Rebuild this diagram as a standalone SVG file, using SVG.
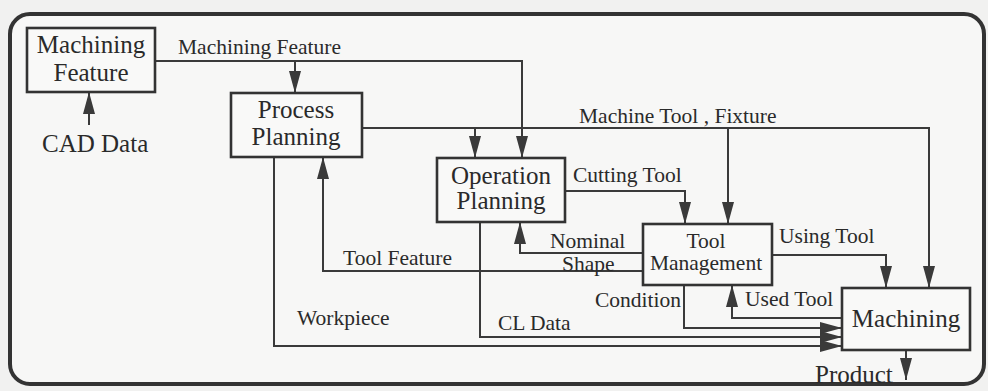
<svg xmlns="http://www.w3.org/2000/svg" width="988" height="391" viewBox="0 0 988 391">
  <style>
    .frame { fill: #f7f7f6; stroke: #333; stroke-width: 4; }
    .box { fill: #f9f9f8; stroke: #333; stroke-width: 2.6; }
    .wire { fill: none; stroke: #3a3a3a; stroke-width: 2; }
    .node-text { font-family: "Liberation Serif", "Times New Roman", serif; font-size: 25px; fill: #2a2a2a; text-anchor: middle; }
    .small-node { font-size: 21.5px; }
    .label { font-family: "Liberation Serif", "Times New Roman", serif; font-size: 21.5px; fill: #2a2a2a; }
    .big { font-size: 25px; }
  </style>
  <defs>
    <marker id="arrow" markerUnits="userSpaceOnUse" markerWidth="22" markerHeight="12" refX="22" refY="6" orient="auto">
      <path d="M0,0 L22,6 L0,12 Z" fill="#3a3a3a"/>
    </marker>
  </defs>

  <rect x="0" y="0" width="988" height="391" fill="#f1f1f0"/>
  <rect class="frame" x="10" y="14" width="974" height="370" rx="20" ry="20"/>

  <!-- Connectors -->
  <g id="connectors">
    <!-- CAD data into the feature model -->
    <path class="wire" d="M89,125 V92" marker-end="url(#arrow)"/>
    <!-- Machining Feature bus -->
    <path class="wire" d="M155,61 H522 V158" marker-end="url(#arrow)"/>
    <path class="wire" d="M295,61 V93" marker-end="url(#arrow)"/>
    <!-- Machine Tool , Fixture bus -->
    <path class="wire" d="M362,128 H929 V288" marker-end="url(#arrow)"/>
    <path class="wire" d="M475,128 V158" marker-end="url(#arrow)"/>
    <path class="wire" d="M728,128 V224" marker-end="url(#arrow)"/>
    <!-- Cutting Tool -->
    <path class="wire" d="M565,191 H685 V224" marker-end="url(#arrow)"/>
    <!-- Nominal Shape -->
    <path class="wire" d="M643,253 H520 V222" marker-end="url(#arrow)"/>
    <!-- Tool Feature -->
    <path class="wire" d="M643,271 H323 V157" marker-end="url(#arrow)"/>
    <!-- CL Data -->
    <path class="wire" d="M480,222 V337 H842" marker-end="url(#arrow)"/>
    <!-- Workpiece -->
    <path class="wire" d="M274,157 V346 H842" marker-end="url(#arrow)"/>
    <!-- Condition -->
    <path class="wire" d="M684,285 V328 H842" marker-end="url(#arrow)"/>
    <!-- Used Tool -->
    <path class="wire" d="M842,318 H732 V285" marker-end="url(#arrow)"/>
    <!-- Using Tool -->
    <path class="wire" d="M772,255 H886 V288" marker-end="url(#arrow)"/>
    <!-- Product -->
    <path class="wire" d="M906,350 V380" marker-end="url(#arrow)"/>
  </g>

  <!-- Connector labels -->
  <g id="labels">
    <text class="label" x="178" y="54">Machining Feature</text>
    <text class="label big" x="42" y="152">CAD Data</text>
    <text class="label" x="579" y="123">Machine Tool , Fixture</text>
    <text class="label" x="573" y="182">Cutting Tool</text>
    <text class="label" x="550" y="248">Nominal</text>
    <text class="label" x="562" y="271">Shape</text>
    <text class="label" x="343" y="265">Tool Feature</text>
    <text class="label" x="498" y="330">CL Data</text>
    <text class="label" x="297" y="325">Workpiece</text>
    <text class="label" x="595" y="307">Condition</text>
    <text class="label" x="745" y="306">Used Tool</text>
    <text class="label" x="779" y="243">Using Tool</text>
    <text class="label big" x="815" y="383">Product</text>
  </g>

  <g id="machining-feature">
    <rect class="box" x="27" y="28" width="128" height="64"/>
    <text class="node-text" x="91" y="53">Machining</text>
    <text class="node-text" x="91" y="81">Feature</text>
  </g>

  <g id="process-planning">
    <rect class="box" x="231" y="93" width="131" height="64"/>
    <text class="node-text" x="296" y="118">Process</text>
    <text class="node-text" x="296" y="145">Planning</text>
  </g>

  <g id="operation-planning">
    <rect class="box" x="437" y="158" width="128" height="64"/>
    <text class="node-text" x="501" y="184">Operation</text>
    <text class="node-text" x="501" y="209">Planning</text>
  </g>

  <g id="tool-management">
    <rect class="box" x="643" y="224" width="129" height="61"/>
    <text class="node-text small-node" x="706" y="248">Tool</text>
    <text class="node-text small-node" x="706" y="270">Management</text>
  </g>

  <g id="machining">
    <rect class="box" x="842" y="288" width="128" height="62"/>
    <text class="node-text" x="906" y="327">Machining</text>
  </g>
</svg>
